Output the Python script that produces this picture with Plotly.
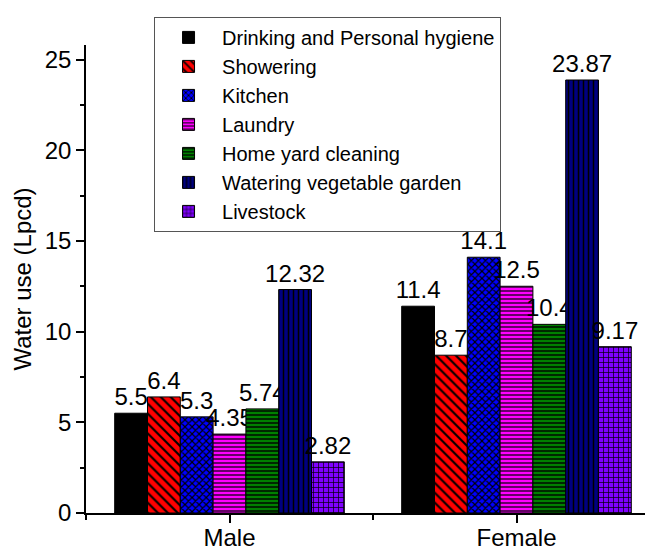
import plotly.graph_objects as go

categories = ["Male", "Female"]
series_names = [
    "Drinking and Personal hygiene",
    "Showering",
    "Kitchen",
    "Laundry",
    "Home yard cleaning",
    "Watering vegetable garden",
    "Livestock",
]
drinking = [5.5, 11.4]
showering = [6.4, 8.7]
kitchen = [5.3, 14.1]
laundry = [4.35, 12.5]
home_yard = [5.74, 10.4]
watering = [12.32, 23.87]
livestock = [2.82, 9.17]
series_values = [drinking, showering, kitchen, laundry, home_yard, watering, livestock]

colors = ["#000000", "#FF0000", "#0000FF", "#FF00FF", "#008000", "#000080", "#8000FF"]
patterns = ["", "\\", "x", "-", "-", "|", "+"]
psizes = [6, 7, 5, 4, 4, 5, 5]
psolid = [0.3, 0.3, 0.4, 0.3, 0.35, 0.3, 0.25]

FONT = "Liberation Sans, Arial, sans-serif"
x_pos = list(range(len(categories)))

fig = go.Figure()
for name, vals, c, p, s, so in zip(series_names, series_values, colors, patterns, psizes, psolid):
    fig.add_trace(go.Bar(
        name=name,
        x=x_pos,
        y=vals,
        text=[f"{v:g}" for v in vals],
        textposition="outside",
        textfont=dict(size=24, color="black", family=FONT),
        cliponaxis=False,
        constraintext="none",
        marker=dict(
            color=c,
            line=dict(color="black", width=1),
            pattern=dict(shape=p, fgcolor="black", bgcolor=c, size=s, solidity=so, fillmode="replace"),
        ),
    ))

# page body has an 8px default margin, so the figure is sized to fit the window
fig.update_layout(
    width=645,
    height=542,
    margin=dict(l=78, r=0, t=37, b=37, autoexpand=False),
    barmode="group",
    bargap=0.2,
    bargroupgap=0,
    plot_bgcolor="white",
    paper_bgcolor="white",
    font=dict(family=FONT, size=24, color="black"),
    showlegend=True,
    legend=dict(
        x=0.12, y=1.06, xanchor="left", yanchor="top",
        font=dict(size=20, family=FONT, color="black"),
        bordercolor="#555555", borderwidth=1, bgcolor="white",
        itemwidth=57, traceorder="normal", tracegroupgap=0,
        entrywidth=375, entrywidthmode="pixels",
    ),
    xaxis=dict(
        range=[-0.5, 1.4756],
        tickvals=x_pos,
        ticktext=categories,
        ticks="outside", ticklen=8, tickwidth=1.5, tickcolor="black",
        minor=dict(tickvals=[-0.5, 0.5, 1.5], ticks="outside", ticklen=5, tickwidth=1.5, tickcolor="black"),
        showline=True, linecolor="black", linewidth=1.5,
        showgrid=False, zeroline=False, automargin=False,
        ticklabelstandoff=-6,
        tickfont=dict(size=24, family=FONT),
    ),
    yaxis=dict(
        range=[0, 25.8],
        tick0=0, dtick=5,
        ticks="outside", ticklen=8, tickwidth=1.5, tickcolor="black",
        minor=dict(dtick=2.5, ticks="outside", ticklen=4, tickwidth=1.5, tickcolor="black"),
        showline=True, linecolor="black", linewidth=1.5,
        showgrid=False, zeroline=False, automargin=False,
        tickfont=dict(size=24, family=FONT),
        title=dict(text="Water use (Lpcd)", font=dict(size=24, family=FONT), standoff=6),
    ),
)

fig.write_html("out.html")
